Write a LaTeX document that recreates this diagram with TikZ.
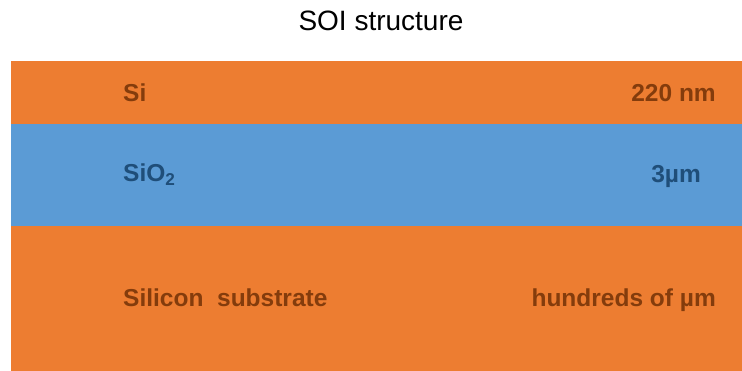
\documentclass[tikz,border=0pt]{standalone}
\usepackage{fontspec}
\setmainfont{Liberation Sans}
\definecolor{siorange}{HTML}{ED7D31}
\definecolor{oxblue}{HTML}{5B9BD5}
\definecolor{sitext}{HTML}{843C0C}
\definecolor{oxtext}{HTML}{1F4E79}
\begin{document}
\begin{tikzpicture}[x=1pt,y=-1pt]
    \tikzstyle{layer}=[draw=none]
    \tikzstyle{label}=[inner sep=0pt,font=\bfseries\fontsize{24.5}{28}\selectfont]
    \useasboundingbox (0,0) rectangle (742,371);

    \node[font=\fontsize{28}{32}\selectfont,inner sep=0pt,anchor=base] (title) at (381,31) {SOI structure};

    % wafer stack, top to bottom
    \foreach \name/\top/\bot/\col in {si/61/124/siorange, box/124/226/oxblue, sub/226/371/siorange}
        \fill[layer,\col] (11,\top) rectangle (742,\bot) coordinate (\name-br);

    \node[label,text=sitext,anchor=base west] (si-name) at (123,102) {Si};
    \node[label,text=sitext,anchor=base east] (si-thick) at (716,102) {220 nm};
    \node[label,text=oxtext,anchor=base west] (box-name) at (123,182) {SiO\textsubscript{2}};
    \node[label,text=oxtext,anchor=base east] (box-thick) at (701,183) {3µm};
    \node[label,text=sitext,anchor=base west] (sub-name) at (123,307) {Silicon\ \ substrate};
    \node[label,text=sitext,anchor=base east] (sub-thick) at (716,307) {hundreds of µm};
\end{tikzpicture}
\end{document}
